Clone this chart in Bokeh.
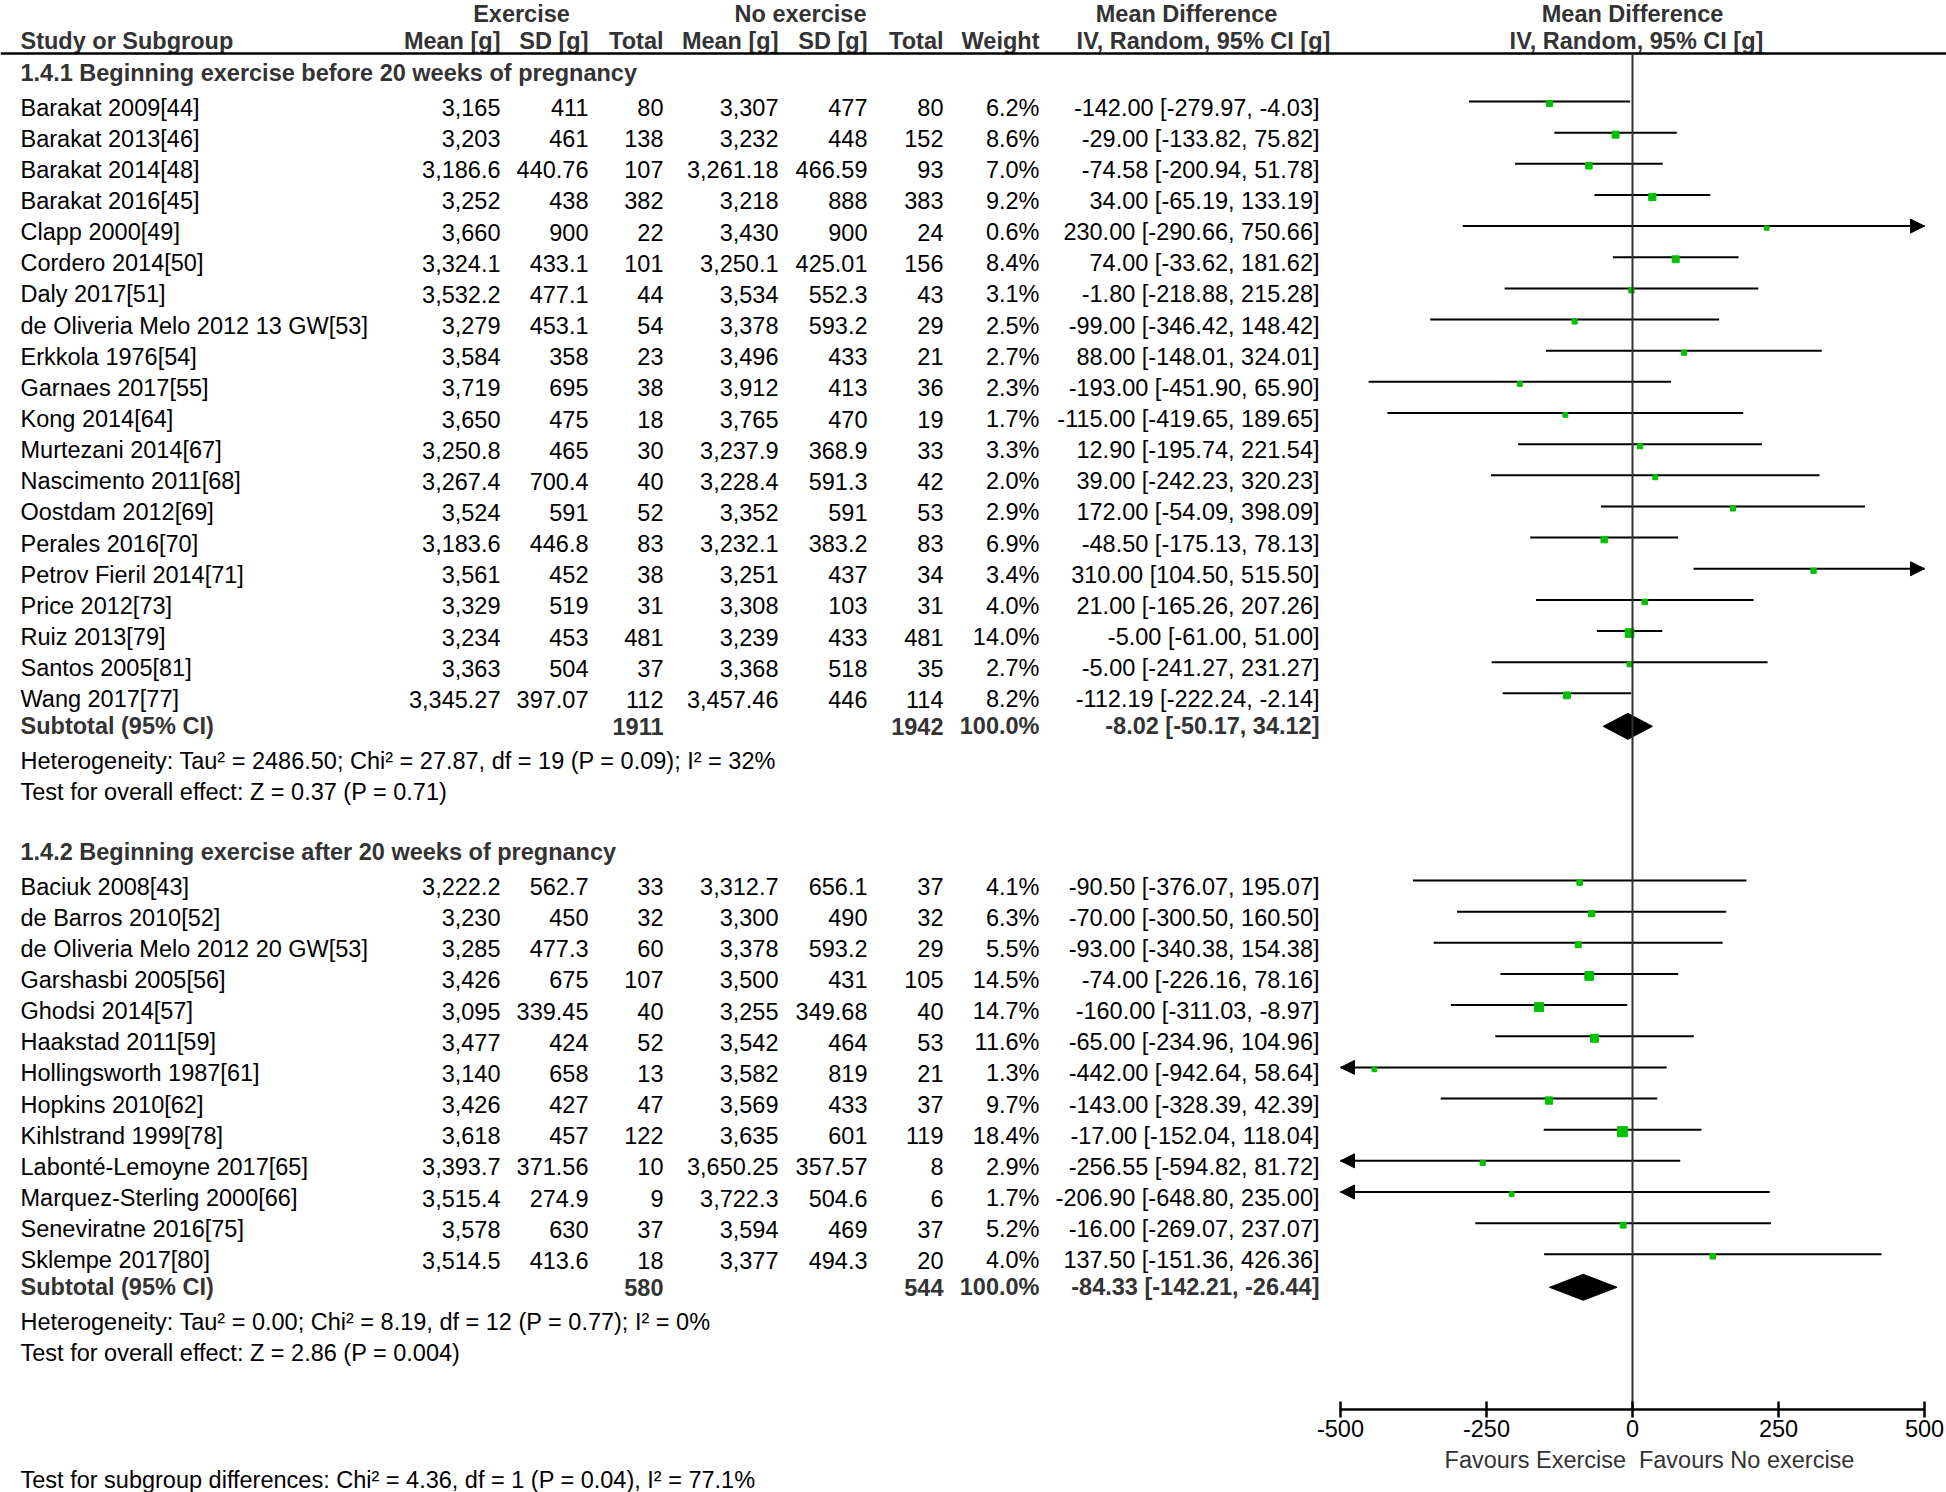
from bokeh.plotting import figure
from bokeh.models import ColumnDataSource, Range1d, LinearAxis, FixedTicker, Arrow, NormalHead
from bokeh.core.properties import value
from bokeh.embed import file_html
from bokeh.resources import INLINE

# ---------------- data ----------------
group_titles = ["1.4.1 Beginning exercise before 20 weeks of pregnancy",
                "1.4.2 Beginning exercise after 20 weeks of pregnancy"]

studies_1 = ["Barakat 2009[44]", "Barakat 2013[46]", "Barakat 2014[48]", "Barakat 2016[45]",
             "Clapp 2000[49]", "Cordero 2014[50]", "Daly 2017[51]", "de Oliveria Melo 2012 13 GW[53]",
             "Erkkola 1976[54]", "Garnaes 2017[55]", "Kong 2014[64]", "Murtezani 2014[67]",
             "Nascimento 2011[68]", "Oostdam 2012[69]", "Perales 2016[70]", "Petrov Fieril 2014[71]",
             "Price 2012[73]", "Ruiz 2013[79]", "Santos 2005[81]", "Wang 2017[77]"]
ex_mean_1 = [3165, 3203, 3186.6, 3252, 3660, 3324.1, 3532.2, 3279, 3584, 3719, 3650, 3250.8,
             3267.4, 3524, 3183.6, 3561, 3329, 3234, 3363, 3345.27]
ex_sd_1 = [411, 461, 440.76, 438, 900, 433.1, 477.1, 453.1, 358, 695, 475, 465,
           700.4, 591, 446.8, 452, 519, 453, 504, 397.07]
ex_n_1 = [80, 138, 107, 382, 22, 101, 44, 54, 23, 38, 18, 30, 40, 52, 83, 38, 31, 481, 37, 112]
no_mean_1 = [3307, 3232, 3261.18, 3218, 3430, 3250.1, 3534, 3378, 3496, 3912, 3765, 3237.9,
             3228.4, 3352, 3232.1, 3251, 3308, 3239, 3368, 3457.46]
no_sd_1 = [477, 448, 466.59, 888, 900, 425.01, 552.3, 593.2, 433, 413, 470, 368.9,
           591.3, 591, 383.2, 437, 103, 433, 518, 446]
no_n_1 = [80, 152, 93, 383, 24, 156, 43, 29, 21, 36, 19, 33, 42, 53, 83, 34, 31, 481, 35, 114]
weight_1 = [6.2, 8.6, 7.0, 9.2, 0.6, 8.4, 3.1, 2.5, 2.7, 2.3, 1.7, 3.3, 2.0, 2.9, 6.9, 3.4, 4.0, 14.0, 2.7, 8.2]
md_1 = [-142.00, -29.00, -74.58, 34.00, 230.00, 74.00, -1.80, -99.00, 88.00, -193.00, -115.00, 12.90,
        39.00, 172.00, -48.50, 310.00, 21.00, -5.00, -5.00, -112.19]
lo_1 = [-279.97, -133.82, -200.94, -65.19, -290.66, -33.62, -218.88, -346.42, -148.01, -451.90, -419.65,
        -195.74, -242.23, -54.09, -175.13, 104.50, -165.26, -61.00, -241.27, -222.24]
hi_1 = [-4.03, 75.82, 51.78, 133.19, 750.66, 181.62, 215.28, 148.42, 324.01, 65.90, 189.65, 221.54,
        320.23, 398.09, 78.13, 515.50, 207.26, 51.00, 231.27, -2.14]

studies_2 = ["Baciuk 2008[43]", "de Barros 2010[52]", "de Oliveria Melo 2012 20 GW[53]", "Garshasbi 2005[56]",
             "Ghodsi 2014[57]", "Haakstad 2011[59]", "Hollingsworth 1987[61]", "Hopkins 2010[62]",
             "Kihlstrand 1999[78]", "Labonté-Lemoyne 2017[65]", "Marquez-Sterling 2000[66]",
             "Seneviratne 2016[75]", "Sklempe 2017[80]"]
ex_mean_2 = [3222.2, 3230, 3285, 3426, 3095, 3477, 3140, 3426, 3618, 3393.7, 3515.4, 3578, 3514.5]
ex_sd_2 = [562.7, 450, 477.3, 675, 339.45, 424, 658, 427, 457, 371.56, 274.9, 630, 413.6]
ex_n_2 = [33, 32, 60, 107, 40, 52, 13, 47, 122, 10, 9, 37, 18]
no_mean_2 = [3312.7, 3300, 3378, 3500, 3255, 3542, 3582, 3569, 3635, 3650.25, 3722.3, 3594, 3377]
no_sd_2 = [656.1, 490, 593.2, 431, 349.68, 464, 819, 433, 601, 357.57, 504.6, 469, 494.3]
no_n_2 = [37, 32, 29, 105, 40, 53, 21, 37, 119, 8, 6, 37, 20]
weight_2 = [4.1, 6.3, 5.5, 14.5, 14.7, 11.6, 1.3, 9.7, 18.4, 2.9, 1.7, 5.2, 4.0]
md_2 = [-90.50, -70.00, -93.00, -74.00, -160.00, -65.00, -442.00, -143.00, -17.00, -256.55, -206.90, -16.00, 137.50]
lo_2 = [-376.07, -300.50, -340.38, -226.16, -311.03, -234.96, -942.64, -328.39, -152.04, -594.82, -648.80,
        -269.07, -151.36]
hi_2 = [195.07, 160.50, 154.38, 78.16, -8.97, 104.96, 58.64, 42.39, 118.04, 81.72, 235.00, 237.07, 426.36]

sub_n_ex = [1911, 580]
sub_n_no = [1942, 544]
sub_weight = [100.0, 100.0]
sub_md = [-8.02, -84.33]
sub_lo = [-50.17, -142.21]
sub_hi = [34.12, -26.44]

heterogeneity = ["Heterogeneity: Tau\u00b2 = 2486.50; Chi\u00b2 = 27.87, df = 19 (P = 0.09); I\u00b2 = 32%",
                 "Heterogeneity: Tau\u00b2 = 0.00; Chi\u00b2 = 8.19, df = 12 (P = 0.77); I\u00b2 = 0%"]
overall = ["Test for overall effect: Z = 0.37 (P = 0.71)",
           "Test for overall effect: Z = 2.86 (P = 0.004)"]
subgroup_test = "Test for subgroup differences: Chi\u00b2 = 4.36, df = 1 (P = 0.04), I\u00b2 = 77.1%"

axis_ticks = [-500, -250, 0, 250, 500]
axis_tick_labels = ["-500", "-250", "0", "250", "500"]
favours = ["Favours Exercise", "Favours No exercise"]

# ---------------- layout ----------------
FONT = "Liberation Sans"
FS = "23.5px"
M = 0
W, H = 1946, 1492
X_NEG, X_POS = 1340.0, 1924.0          # page x of -500 / +500
LIM = 500.0
PPU = (X_POS - X_NEG) / (2 * LIM)
md_start = -LIM - (X_NEG - M) / PPU
md_end = LIM + (M + W - X_POS) / PPU

NAME_X = 20
COL_R = [500, 588, 663, 778, 867, 943, 1039, 1319]
STEP = 31.15
HEAD_LINE_Y = 53
AXIS_Y = 1409
GREEN = "#00C000"
GREY = "#333333"

p = figure(frame_width=W, frame_height=H, x_range=Range1d(M, M + W), y_range=Range1d(M + H, M),
           x_axis_type=None, y_axis_type=None, toolbar_location=None, output_backend="svg",
           min_border=0, outline_line_color=None)
p.extra_x_ranges = {"md": Range1d(md_start, md_end)}


def txt(xs, ys, texts, align, bold=False, color="black", size=FS):
    p.text(x=xs, y=ys, text=texts, text_align=align, text_baseline="middle",
           text_font=value(FONT), text_font_size=size,
           text_font_style="bold" if bold else "normal", text_color=color)


def fmt(v):
    return format(v, ",")


# header
txt([521, 800], [13, 13], ["Exercise", "No exercise"], "center", True, GREY)
txt([1186, 1632], [13, 13], ["Mean Difference", "Mean Difference"], "center", True, GREY)
txt([NAME_X], [40], ["Study or Subgroup"], "left", True, GREY)
txt(COL_R[:7], [40] * 7, ["Mean [g]", "SD [g]", "Total", "Mean [g]", "SD [g]", "Total", "Weight"], "right", True, GREY)
txt([1203, 1636], [40, 40], ["IV, Random, 95% CI [g]", "IV, Random, 95% CI [g]"], "center", True, GREY)
p.segment(x0=[0], y0=[HEAD_LINE_Y], x1=[1946], y1=[HEAD_LINE_Y], line_color="black", line_width=2.5)

groups = [
    (studies_1, ex_mean_1, ex_sd_1, ex_n_1, no_mean_1, no_sd_1, no_n_1, weight_1, md_1, lo_1, hi_1),
    (studies_2, ex_mean_2, ex_sd_2, ex_n_2, no_mean_2, no_sd_2, no_n_2, weight_2, md_2, lo_2, hi_2),
]
title_y = [72, 851]

for g, (names, em, es, en, nm, ns, nn, wt, md, lo, hi) in enumerate(groups):
    ty = title_y[g]
    txt([NAME_X], [ty], [group_titles[g]], "left", True, GREY)
    ys = [ty + 35 + i * STEP for i in range(len(names))]
    txt([NAME_X] * len(ys), ys, names, "left")
    cols = [[fmt(v) for v in em], [fmt(v) for v in es], [str(v) for v in en],
            [fmt(v) for v in nm], [fmt(v) for v in ns], [str(v) for v in nn],
            [f"{v:.1f}%" for v in wt],
            [f"{a:.2f} [{b:.2f}, {c:.2f}]" for a, b, c in zip(md, lo, hi)]]
    for xr, col in zip(COL_R, cols):
        txt([xr] * len(ys), ys, col, "right")

    # subtotal row
    sy = ys[-1] + 27
    txt([NAME_X], [sy], ["Subtotal (95% CI)"], "left", True, GREY)
    txt([COL_R[2], COL_R[5], COL_R[6], COL_R[7]], [sy] * 4,
        [str(sub_n_ex[g]), str(sub_n_no[g]), f"{sub_weight[g]:.1f}%",
         f"{sub_md[g]:.2f} [{sub_lo[g]:.2f}, {sub_hi[g]:.2f}]"], "right", True, GREY)
    txt([NAME_X, NAME_X], [sy + 35, sy + 66], [heterogeneity[g], overall[g]], "left")

    # forest: CI lines
    ly = [y - 6 for y in ys]
    x0 = [max(v, -LIM) for v in lo]
    x1 = [min(v, LIM) for v in hi]
    p.segment(x0=x0, y0=ly, x1=x1, y1=ly, x_range_name="md", line_color="black", line_width=2)
    # arrows for truncated intervals
    a_xs, a_xe, a_y = [], [], []
    for l, h, y in zip(lo, hi, ly):
        if l < -LIM:
            a_xs.append(-LIM + 15); a_xe.append(-LIM); a_y.append(y)
        if h > LIM:
            a_xs.append(LIM - 15); a_xe.append(LIM); a_y.append(y)
    if a_y:
        src = ColumnDataSource(dict(xs=a_xs, xe=a_xe, y=a_y))
        p.add_layout(Arrow(end=NormalHead(size=14, fill_color="black", line_color="black", line_width=1),
                           x_start="xs", y_start="y", x_end="xe", y_end="y", source=src,
                           x_range_name="md", line_color="black", line_width=2))
    # weight squares
    p.scatter(x=md, y=[y + 2 for y in ly], size=[4.2 + 0.32 * w for w in wt], marker="square",
              x_range_name="md", fill_color=GREEN, line_color=GREEN)
    # subtotal diamond
    p.patches(xs=[[sub_lo[g], sub_md[g], sub_hi[g], sub_md[g]]], ys=[[sy, sy - 13, sy, sy + 13]],
              x_range_name="md", fill_color="black", line_color="black")

txt([NAME_X], [1479], [subgroup_test], "left")

# zero line
p.segment(x0=[0], y0=[HEAD_LINE_Y], x1=[0], y1=[AXIS_Y], x_range_name="md", line_color=GREY, line_width=2)

# axis
ax = LinearAxis(x_range_name="md", ticker=FixedTicker(ticks=axis_ticks), bounds=(-LIM, LIM),
                fixed_location=AXIS_Y, major_tick_in=8, major_tick_out=8,
                minor_tick_in=0, minor_tick_out=0, axis_line_width=2.5, major_tick_line_width=2.5,
                major_label_text_font=FONT, major_label_text_font_size=FS, major_label_text_color="black",
                major_label_standoff=2,
                major_label_overrides={t: s for t, s in zip(axis_ticks, axis_tick_labels)})
p.add_layout(ax, "below")

p.text(x=[-11, 11], y=[1459, 1459], text=favours, text_align=["right", "left"], text_baseline="middle",
       x_range_name="md", text_font=value(FONT), text_font_size=FS, text_color=GREY)

p.background_fill_color = "white"
p.border_fill_color = "white"

open("out.html", "w").write(file_html(p, INLINE))
